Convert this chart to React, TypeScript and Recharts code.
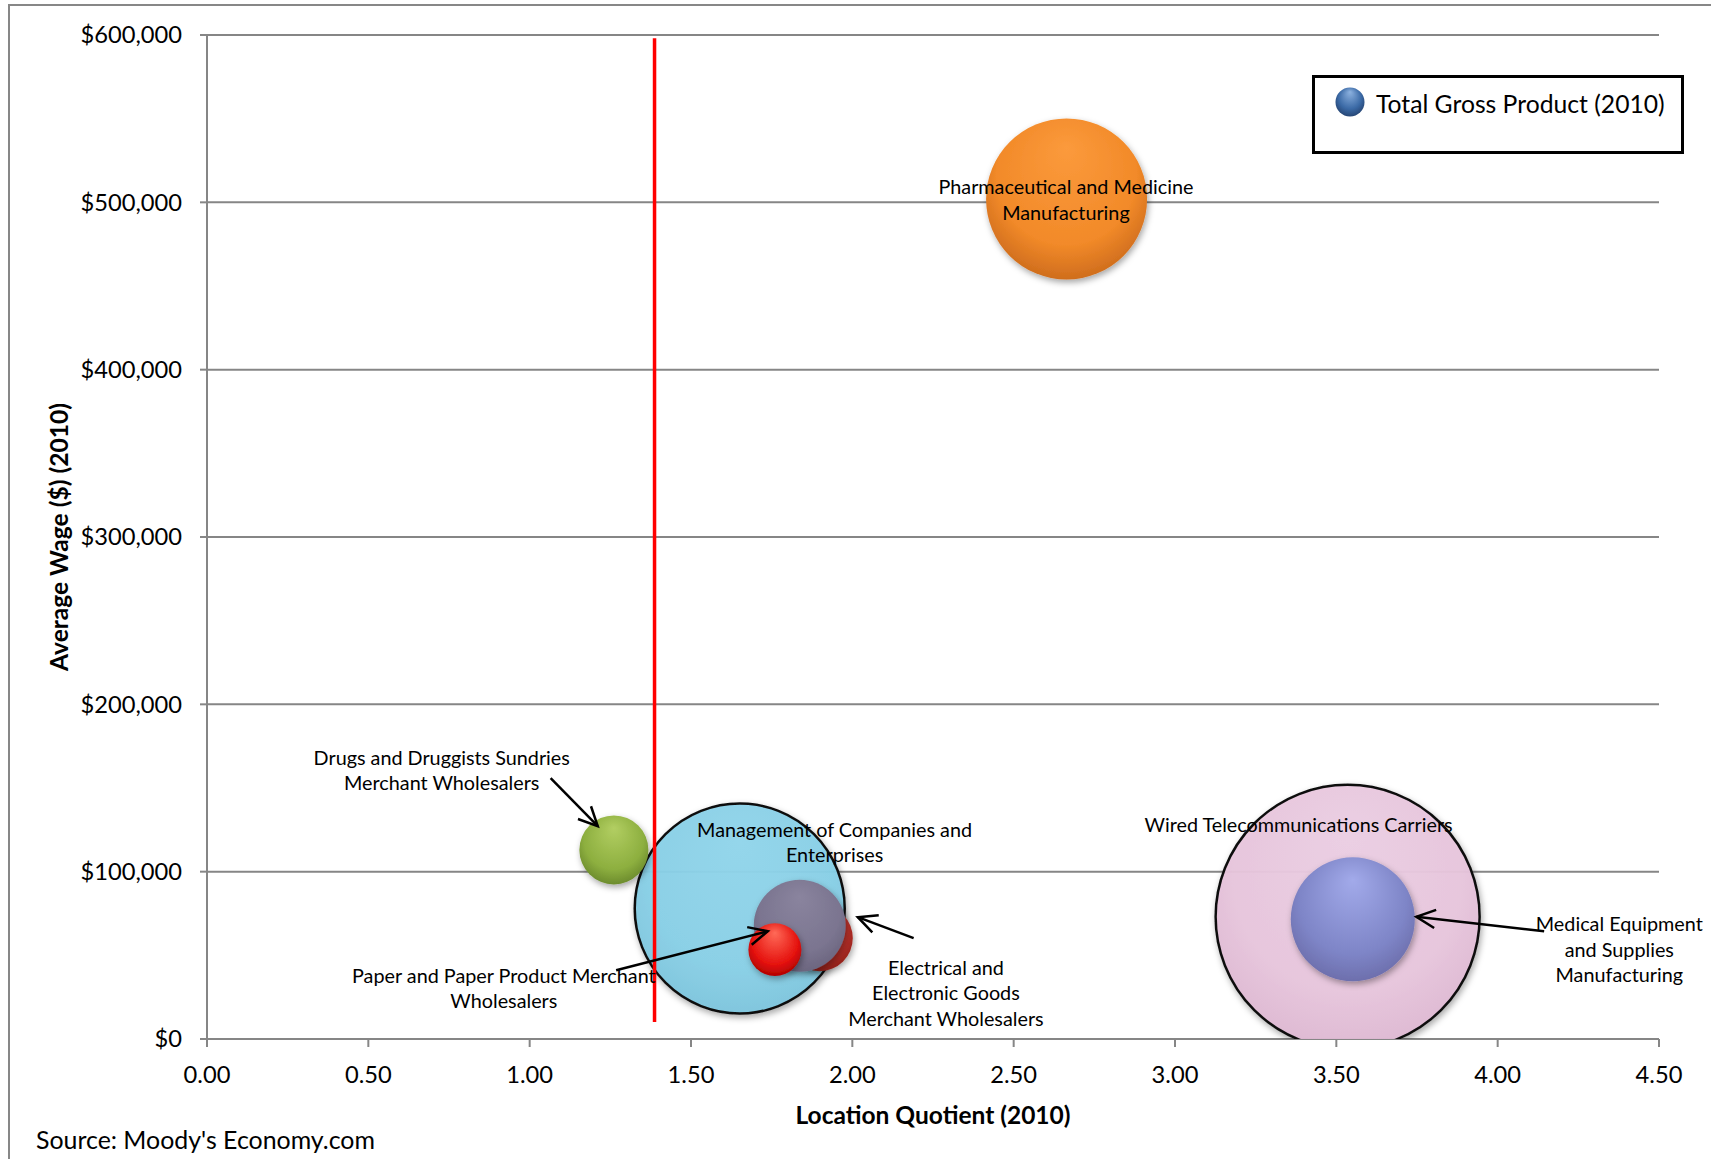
import React from 'react';
import {
  ScatterChart,
  Scatter,
  XAxis,
  YAxis,
  ZAxis,
  CartesianGrid,
  ReferenceLine,
  ReferenceDot,
  Legend,
} from 'recharts';

const FONT = 'Lato, "Open Sans", "Noto Sans", sans-serif';

// Industries, listed in drawing order (back to front)
const industries = [
  'Wired Telecommunications Carriers',
  'Management of Companies and Enterprises',
  'Pharmaceutical and Medicine Manufacturing',
  'Medical Equipment and Supplies Manufacturing',
  'Electrical and Electronic Goods Merchant Wholesalers',
  'Other Industry',
  'Drugs and Druggists Sundries Merchant Wholesalers',
  'Paper and Paper Product Merchant Wholesalers',
];

// Location quotient (2010)
const locationQuotient = [3.535, 1.651, 2.664, 3.551, 1.899, 1.837, 1.261, 1.76];

// Average wage in dollars (2010)
const averageWage = [73000, 78000, 502000, 71600, 60300, 67700, 113000, 53400];

// Total gross product (2010), $ millions
const totalGrossProduct = [17400, 11010, 6470, 3840, 1090, 2110, 1190, 700];

const xTicks = [0, 0.5, 1, 1.5, 2, 2.5, 3, 3.5, 4, 4.5];
const yTicks = [0, 100000, 200000, 300000, 400000, 500000, 600000];

// Threshold location quotient marked by the red vertical line
const lqThreshold = 1.387;

// Callout text blocks, anchored at their centre in data units
const callouts = [
  { lines: ['Pharmaceutical and Medicine', 'Manufacturing'], x: 2.662, y: 502000 },
  { lines: ['Drugs and Druggists Sundries', 'Merchant Wholesalers'], x: 0.7275, y: 161100 },
  { lines: ['Management of Companies and', 'Enterprises'], x: 1.945, y: 118050 },
  { lines: ['Paper and Paper Product Merchant', 'Wholesalers'], x: 0.92, y: 30660 },
  { lines: ['Electrical and', 'Electronic Goods', 'Merchant Wholesalers'], x: 2.29, y: 27800 },
  { lines: ['Wired Telecommunications Carriers'], x: 3.383, y: 128450 },
  { lines: ['Medical Equipment', 'and Supplies', 'Manufacturing'], x: 4.377, y: 53900 },
];

// Callout arrows: tail -> head, in data units
const arrows = [
  { from: { x: 1.065, y: 155900 }, to: { x: 1.211, y: 127200 } },
  { from: { x: 1.268, y: 41100 }, to: { x: 1.738, y: 64400 } },
  { from: { x: 2.19, y: 60250 }, to: { x: 2.017, y: 72800 } },
  { from: { x: 4.144, y: 64400 }, to: { x: 3.748, y: 73000 } },
];

const bubbles = industries.map((industry, i) => ({
  industry,
  lq: locationQuotient[i],
  wage: averageWage[i],
  gdp: totalGrossProduct[i],
}));

type BubbleLook = {
  light: string;
  base: string;
  dark: string;
  stroke?: string;
  opacity: number;
};

const looks: Record<string, BubbleLook> = {
  'Wired Telecommunications Carriers': { light: '#ECCFE4', base: '#E8C6DD', dark: '#DDB6D1', stroke: '#111', opacity: 0.95 },
  'Management of Companies and Enterprises': { light: '#92D6EC', base: '#88D0E7', dark: '#7CC4DC', stroke: '#111', opacity: 0.95 },
  'Pharmaceutical and Medicine Manufacturing': { light: '#FB9A3C', base: '#F28A29', dark: '#C9681B', opacity: 1 },
  'Medical Equipment and Supplies Manufacturing': { light: '#A2AAEA', base: '#7E85C7', dark: '#6A6BA8', opacity: 1 },
  'Electrical and Electronic Goods Merchant Wholesalers': { light: '#D24A3C', base: '#B9302A', dark: '#8A1E16', opacity: 1 },
  'Other Industry': { light: '#8A849E', base: '#7B7590', dark: '#69637C', opacity: 1 },
  'Drugs and Druggists Sundries Merchant Wholesalers': { light: '#B2CE62', base: '#8DAF3F', dark: '#66852A', opacity: 1 },
  'Paper and Paper Product Merchant Wholesalers': { light: '#FF6A58', base: '#E5120E', dark: '#A80000', opacity: 1 },
};

const slug = (s: string) => s.toLowerCase().replace(/[^a-z0-9]+/g, '-');

const BubbleShape = (props: any) => {
  const { cx, cy, width, payload } = props;
  if (cx == null || cy == null) return null;
  const r = width / 2;
  const look = looks[payload.industry];
  const id = slug(payload.industry);
  return (
    <g>
      <defs>
        <radialGradient id={`g-${id}`} cx="50%" cy="42%" r="62%" fx="50%" fy="18%">
          <stop offset="0%" stopColor={look.light} />
          <stop offset="70%" stopColor={look.base} />
          <stop offset="100%" stopColor={look.dark} />
        </radialGradient>
        <filter id={`s-${id}`} x="-30%" y="-30%" width="160%" height="160%">
          <feDropShadow dx="1.5" dy="3" stdDeviation="3" floodColor="#000" floodOpacity="0.35" />
        </filter>
      </defs>
      <circle
        cx={cx}
        cy={cy}
        r={r}
        fill={`url(#g-${id})`}
        fillOpacity={look.opacity}
        stroke={look.stroke ?? 'none'}
        strokeWidth={look.stroke ? 2.5 : 0}
        filter={`url(#s-${id})`}
      />
    </g>
  );
};

const calloutShape = (lines: string[]) => (p: any) => {
  const lineH = 25.5;
  return (
    <text textAnchor="middle" fontFamily={FONT} fontSize={19.8} fill="#000">
      {lines.map((l, i) => (
        <tspan key={i} x={p.cx} y={p.cy + (i - (lines.length - 1) / 2) * lineH} dominantBaseline="central">
          {l}
        </tspan>
      ))}
    </text>
  );
};

const arrowShape = (p: any) => {
  const { x1, y1, x2, y2 } = p;
  const ang = Math.atan2(y2 - y1, x2 - x1);
  const len = 21;
  const spread = Math.PI / 7;
  const ax = x2 - len * Math.cos(ang - spread);
  const ay = y2 - len * Math.sin(ang - spread);
  const bx = x2 - len * Math.cos(ang + spread);
  const by = y2 - len * Math.sin(ang + spread);
  return (
    <g>
      <line x1={x1} y1={y1} x2={x2} y2={y2} stroke="#000" strokeWidth={2.5} />
      <polyline points={`${ax},${ay} ${x2},${y2} ${bx},${by}`} fill="none" stroke="#000" strokeWidth={2.5} />
    </g>
  );
};

const LegendBox = (props: any) => {
  const label = props.payload && props.payload[0] ? props.payload[0].value : '';
  return (
    <div
      style={{
        boxSizing: 'border-box',
        width: 372,
        height: 79,
        border: '3px solid #000',
        background: '#fff',
        position: 'relative',
        fontFamily: FONT,
      }}
    >
      <svg width={40} height={40} style={{ position: 'absolute', left: 15, top: 4 }}>
        <defs>
          <radialGradient id="legend-ball" cx="50%" cy="45%" r="60%" fx="50%" fy="15%">
            <stop offset="0%" stopColor="#8DB2E0" />
            <stop offset="65%" stopColor="#3B6AA6" />
            <stop offset="100%" stopColor="#223F6C" />
          </radialGradient>
        </defs>
        <circle cx={20} cy={20} r={14.5} fill="url(#legend-ball)" />
      </svg>
      <div
        style={{
          position: 'absolute',
          left: 61,
          top: 9,
          fontSize: 24.7,
          lineHeight: '34px',
          color: '#000',
          whiteSpace: 'nowrap',
        }}
      >
        {label}
      </div>
    </div>
  );
};

const YTitle = (props: any) => {
  const { viewBox } = props;
  const cx = viewBox.x + 58;
  const cy = viewBox.y + viewBox.height / 2;
  return (
    <text
      x={cx}
      y={cy}
      transform={`rotate(-90 ${cx} ${cy})`}
      textAnchor="middle"
      dominantBaseline="central"
      fontFamily={FONT}
      fontWeight="bold"
      fontSize={24.6}
      fill="#000"
    >
      Average Wage ($) (2010)
    </text>
  );
};

const XTitle = (props: any) => {
  const { viewBox } = props;
  const cx = viewBox.x + viewBox.width / 2;
  const cy = viewBox.y + 75;
  return (
    <text x={cx} y={cy} textAnchor="middle" dominantBaseline="central" fontFamily={FONT} fontWeight="bold" fontSize={24.5} fill="#000">
      Location Quotient (2010)
    </text>
  );
};

const fmtMoney = (v: number) => '$' + v.toLocaleString('en-US');
const fmtLq = (v: number) => v.toFixed(2);

export default function App() {
  return (
    <div
      style={{
        position: 'absolute',
        left: 0,
        top: 0,
        width: 1711,
        height: 1159,
        overflow: 'hidden',
        background: '#fff',
        fontFamily: FONT,
      }}
    >
      <div
        style={{
          position: 'absolute',
          left: 8,
          top: 4,
          width: 1760,
          height: 1220,
          borderLeft: '2px solid #878787',
          borderTop: '2px solid #878787',
        }}
      />
      <ScatterChart
        width={1711}
        height={1159}
        margin={{ top: 35, right: 52, bottom: 0, left: 0 }}
        style={{ fontFamily: FONT }}
      >
        <CartesianGrid horizontal vertical={false} stroke="#868686" strokeWidth={2} />
        <XAxis
          type="number"
          dataKey="lq"
          domain={[0, 4.5]}
          ticks={xTicks}
          tickFormatter={fmtLq}
          height={120}
          axisLine={{ stroke: '#868686', strokeWidth: 2 }}
          tickLine={{ stroke: '#868686', strokeWidth: 2 }}
          tickSize={8}
          tickMargin={19}
          tick={{ fill: '#000', fontSize: 23.7, fontFamily: FONT }}
          interval={0}
          label={{ content: <XTitle /> }}
        />
        <YAxis
          type="number"
          dataKey="wage"
          domain={[0, 600000]}
          ticks={yTicks}
          tickFormatter={fmtMoney}
          width={207}
          allowDataOverflow
          axisLine={{ stroke: '#868686', strokeWidth: 2 }}
          tickLine={{ stroke: '#868686', strokeWidth: 2 }}
          tickSize={7}
          tickMargin={18}
          tick={{ fill: '#000', fontSize: 23.7, fontFamily: FONT }}
          interval={0}
          label={{ content: <YTitle /> }}
        />
        <ZAxis type="number" dataKey="gdp" domain={[0, 17400]} range={[0, Math.PI * 132 * 132]} />
        <Legend
          layout="horizontal"
          align="center"
          verticalAlign="middle"
          width={372}
          height={79}
          wrapperStyle={{ left: 1312, top: 75, width: 372, height: 79 }}
          content={<LegendBox />}
        />
        <Scatter
          name="Total Gross Product (2010)"
          data={bubbles}
          shape={<BubbleShape />}
          isAnimationActive={false}
        />
        <ReferenceLine
          segment={[
            { x: lqThreshold, y: 10200 },
            { x: lqThreshold, y: 598000 },
          ]}
          stroke="#FF0000"
          strokeWidth={3.5}
          zIndex={700}
        />
        {arrows.map((a, i) => (
          <ReferenceLine key={`arrow-${i}`} segment={[a.from, a.to]} shape={arrowShape} zIndex={750} />
        ))}
        {callouts.map((c, i) => (
          <ReferenceDot
            key={`callout-${i}`}
            x={c.x}
            y={c.y}
            r={0}
            ifOverflow="visible"
            shape={calloutShape(c.lines)}
            zIndex={800}
          />
        ))}
      </ScatterChart>
      <div
        style={{
          position: 'absolute',
          left: 36,
          top: 1139,
          transform: 'translateY(-50%)',
          fontSize: 24.9,
          color: '#000',
          whiteSpace: 'nowrap',
        }}
      >
        Source: Moody's Economy.com
      </div>
    </div>
  );
}
